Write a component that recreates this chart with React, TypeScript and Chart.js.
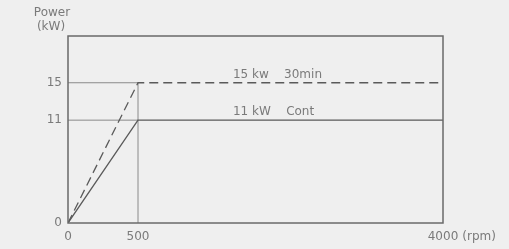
import React, { useEffect, useRef } from "react";
import { Chart, registerables, LinearScale } from "chart.js";

Chart.register(...registerables);

// ---- data ----
const rpm = [0, 500, 4000];
const power30min = [0, 15, 15];
const powerCont = [0, 11, 11];
const xTickValues = [0, 500, 4000];
const xTickLabels = ["0", "500", "4000"];
const xUnit = "(rpm)";
const yTickValues = [0, 11, 15];
const yTickLabels = ["0", "11", "15"];
const yTitle = ["Power", "(kW)"];
const ratingLabels = ["15 kw    30min", "11 kW    Cont"];
const ratingValues = [15, 11];
const ratingLabelX = 1590;
const yMax = 20;
const xBreak = 500;
const xBreakFraction = 70 / 375;

const FONT = "DejaVu Sans";
const TEXT = "#7a7a7a";
const LINE = "#5a5a5a";

class BrokenLinearScale extends LinearScale {
  static id = "brokenLinear";
  static defaults = { ...(LinearScale as any).defaults };
  getPixelForValue(value: number) {
    const min = (this as any).min;
    const max = (this as any).max;
    const d =
      value <= xBreak
        ? ((value - min) / (xBreak - min)) * xBreakFraction
        : xBreakFraction + ((value - xBreak) / (max - xBreak)) * (1 - xBreakFraction);
    return (this as any).getPixelForDecimal(d);
  }
  getValueForPixel(pixel: number) {
    const min = (this as any).min;
    const max = (this as any).max;
    const d = (this as any).getDecimalForPixel(pixel);
    return d <= xBreakFraction
      ? min + (d / xBreakFraction) * (xBreak - min)
      : xBreak + ((d - xBreakFraction) / (1 - xBreakFraction)) * (max - xBreak);
  }
}
Chart.register(BrokenLinearScale as any);

const decorPlugin = {
  id: "decor",
  beforeDraw(chart: any) {
    const ctx = chart.ctx;
    ctx.save();
    ctx.fillStyle = "#efefef";
    ctx.fillRect(0, 0, chart.width, chart.height);
    ctx.restore();
  },
  afterDraw(chart: any) {
    const ctx = chart.ctx;
    const { left, top, right, bottom } = chart.chartArea;
    const xs = chart.scales.x;
    const ys = chart.scales.y;
    ctx.save();
    ctx.strokeStyle = "#6a6a6a";
    ctx.lineWidth = 1.5;
    ctx.strokeRect(left, top, right - left, bottom - top);

    ctx.fillStyle = TEXT;
    ctx.font = `12px "${FONT}"`;
    ctx.textAlign = "center";
    ctx.textBaseline = "middle";
    ctx.fillText(yTitle[0], 52, 13);
    ctx.fillText(yTitle[1], 51, 27);

    // unit after last x tick
    const lastX = xs.getPixelForValue(xTickValues[xTickValues.length - 1]);
    const w = ctx.measureText(xTickLabels[xTickLabels.length - 1]).width;
    ctx.textAlign = "left";
    ctx.fillText(xUnit, lastX + w / 2 + 4, 237);

    // rating labels
    ctx.textBaseline = "bottom";
    ratingLabels.forEach((t, i) => {
      ctx.fillText(t, xs.getPixelForValue(ratingLabelX), ys.getPixelForValue(ratingValues[i]) - 2);
    });
    ctx.restore();
  },
};

export default function App() {
  const ref = useRef<HTMLCanvasElement>(null);
  useEffect(() => {
    document.body.style.margin = "0";
    const pts = (xs: number[], ys: number[]) => xs.map((x, i) => ({ x, y: ys[i] }));
    const guide = {
      borderColor: "#8a8a8a",
      borderWidth: 1,
      pointRadius: 0,
      fill: false,
    };
    const chart = new Chart(ref.current!, {
      type: "line",
      data: {
        datasets: [
          {
            label: "30min",
            data: pts(rpm, power30min),
            borderColor: LINE,
            borderWidth: 1.3,
            borderDash: [9, 5],
            pointRadius: 0,
            fill: false,
          },
          {
            label: "Cont",
            data: pts(rpm, powerCont),
            borderColor: LINE,
            borderWidth: 1.3,
            pointRadius: 0,
            fill: false,
          },
          { ...guide, label: "g15", data: pts([rpm[0], rpm[1]], [power30min[1], power30min[1]]) },
          { ...guide, label: "g11", data: pts([rpm[0], rpm[1]], [powerCont[1], powerCont[1]]) },
          { ...guide, label: "gv", data: pts([rpm[1], rpm[1]], [0, power30min[1]]) },
        ],
      },
      options: {
        responsive: false,
        animation: false,
        layout: { padding: { top: 36, right: 66, left: 0, bottom: 0 } },
        plugins: { legend: { display: false }, tooltip: { enabled: false } },
        scales: {
          x: {
            type: "brokenLinear" as any,
            min: 0,
            max: 4000,
            grid: { display: false, drawTicks: false },
            border: { display: false },
            afterBuildTicks: (s: any) => {
              s.ticks = xTickValues.map((v) => ({ value: v }));
            },
            afterFit: (s: any) => {
              s.height = 26;
            },
            ticks: {
              padding: 7,
              maxRotation: 0,
              autoSkip: false,
              color: TEXT,
              font: { family: FONT, size: 12 },
              callback: (_v: any, i: number) => xTickLabels[i],
            },
          } as any,
          y: {
            type: "linear",
            min: 0,
            max: yMax,
            grid: { display: false, drawTicks: false },
            border: { display: false },
            afterBuildTicks: (s: any) => {
              s.ticks = yTickValues.map((v) => ({ value: v }));
            },
            afterFit: (s: any) => {
              s.width = 68;
            },
            ticks: {
              padding: 6,
              autoSkip: false,
              color: TEXT,
              font: { family: FONT, size: 12 },
              callback: (_v: any, i: number) => yTickLabels[i],
            },
          },
        },
      },
      plugins: [decorPlugin],
    });
    return () => chart.destroy();
  }, []);
  return (
    <div style={{ position: "fixed", left: 0, top: 0 }}>
      <canvas ref={ref} width={509} height={249} style={{ display: "block" }} />
    </div>
  );
}
